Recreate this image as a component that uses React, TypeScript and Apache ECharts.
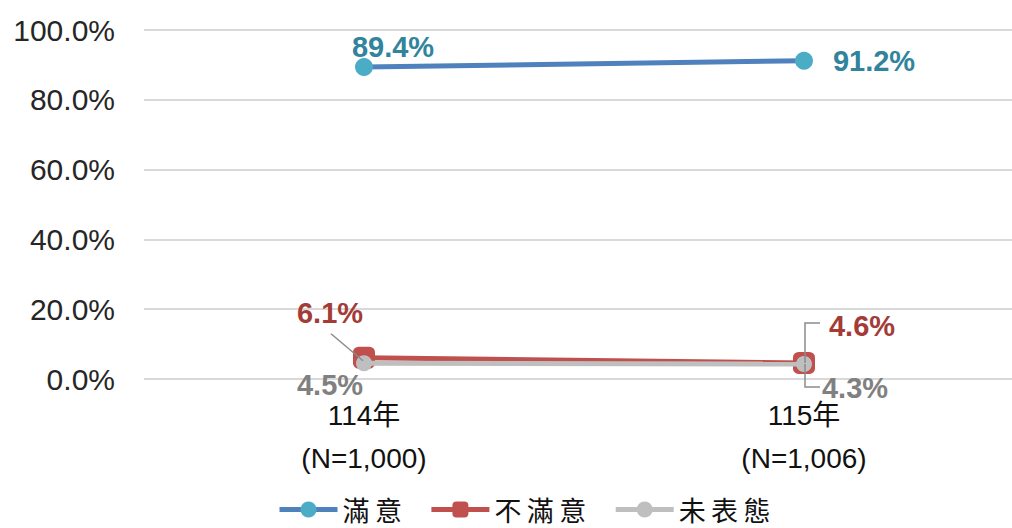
import React, { useEffect, useRef } from "react";
import * as echarts from "echarts";

const categories = ["114年\n(N=1,000)", "115年\n(N=1,006)"];
const satisfied = [89.4, 91.2];
const dissatisfied = [6.1, 4.6];
const noOpinion = [4.5, 4.3];
const yTicks = { min: 0, max: 100, interval: 20 };

const FONT = "Arial, 'Liberation Sans', 'Noto Sans CJK TC', sans-serif";

export default function App() {
  const ref = useRef<HTMLDivElement>(null);
  useEffect(() => {
    if (!ref.current) return;
    const chart = echarts.init(ref.current, null, { renderer: "svg" });
    const pct = (p: any) => p.value.toFixed(1) + "%";
    const spaced = (s: string) => s.split("").join("\u2009");
    chart.setOption({
      animation: false,
      textStyle: { fontFamily: FONT },
      grid: {
        left: 144,
        top: 30,
        right: -12,
        height: 349,
        containLabel: false,
        outerBoundsMode: "none",
      },
      legend: {
        bottom: 0,
        left: 272,
        itemWidth: 58,
        itemHeight: 20,
        itemGap: 27,
        lineStyle: { width: 5 },
        formatter: (n: string) => spaced(n),
        textStyle: { fontSize: 27, color: "#111", fontFamily: "'Noto Sans CJK TC', serif" },
        data: ["滿意", "不滿意", "未表態"],
      },
      xAxis: {
        type: "category",
        data: categories,
        boundaryGap: true,
        axisLine: { show: false },
        axisTick: { show: false },
        axisLabel: { fontSize: 28, color: "#111", lineHeight: 43, margin: 15, fontFamily: FONT },
      },
      yAxis: {
        type: "value",
        min: yTicks.min,
        max: yTicks.max,
        interval: yTicks.interval,
        axisLine: { show: false },
        axisTick: { show: false },
        splitLine: { lineStyle: { color: "#d9d9d9", width: 2 } },
        axisLabel: {
          fontSize: 30,
          color: "#262626",
          margin: 29,
          fontFamily: FONT,
          formatter: (v: number) => v.toFixed(1) + "%",
        },
      },
      series: [
        {
          name: "滿意",
          type: "line",
          data: satisfied,
          lineStyle: { color: "#4F81BD", width: 5 },
          itemStyle: { color: "#4BACC6" },
          symbol: "circle",
          symbolSize: 18,
          label: {
            show: true,
            position: "inside",
            fontSize: 29,
            fontWeight: "bold",
            color: "#31849B",
            formatter: pct,
          },
          labelLayout: (p: any) =>
            p.dataIndex === 0 ? { dx: 29, dy: -20 } : { dx: 70, dy: 0 },
          z: 3,
        },
        {
          name: "不滿意",
          type: "line",
          data: dissatisfied,
          lineStyle: { color: "#C0504D", width: 5 },
          itemStyle: { color: "#C0504D" },
          symbol: "roundRect",
          symbolSize: 22,
          label: {
            show: true,
            position: "inside",
            fontSize: 29,
            fontWeight: "bold",
            color: "#A33B36",
            formatter: pct,
          },
          labelLayout: (p: any) =>
            p.dataIndex === 0 ? { dx: -34, dy: -45 } : { dx: 58, dy: -37 },
          z: 4,
        },
        {
          name: "未表態",
          type: "line",
          data: noOpinion,
          lineStyle: { color: "#BFBFBF", width: 5 },
          itemStyle: { color: "#BFBFBF" },
          symbol: "circle",
          symbolSize: 16,
          label: {
            show: true,
            position: "inside",
            fontSize: 29,
            fontWeight: "bold",
            color: "#808080",
            formatter: pct,
          },
          labelLayout: (p: any) =>
            p.dataIndex === 0 ? { dx: -34, dy: 22 } : { dx: 51, dy: 24 },
          z: 5,
        },
      ],
    });

    // Leader lines, anchored to the data points through the chart's own scales
    const px = (i: number, v: number) =>
      chart.convertToPixel({ gridIndex: 0 }, [i, v]) as number[];
    const a = px(0, dissatisfied[0]);
    const b = px(1, dissatisfied[1]);
    const c = px(1, noOpinion[1]);
    const lineStyle = { stroke: "#8c8c8c", lineWidth: 1.5, fill: "none" };
    chart.setOption({
      graphic: [
        {
          type: "polyline",
          z: 100,
          shape: { points: [[a[0] - 1, a[1] + 3], [a[0] - 33, a[1] - 24]] },
          style: lineStyle,
        },
        {
          type: "polyline",
          z: 100,
          shape: { points: [[b[0] + 1, b[1]], [b[0] + 1, b[1] - 40], [b[0] + 16, b[1] - 40]] },
          style: lineStyle,
        },
        {
          type: "polyline",
          z: 100,
          shape: { points: [[c[0] + 1, c[1]], [c[0] + 1, c[1] + 23], [c[0] + 16, c[1] + 23]] },
          style: lineStyle,
        },
      ],
    });
    return () => chart.dispose();
  }, []);
  return <div ref={ref} style={{ width: 1012, height: 528, position: "absolute", left: 0, top: 0 }} />;
}
